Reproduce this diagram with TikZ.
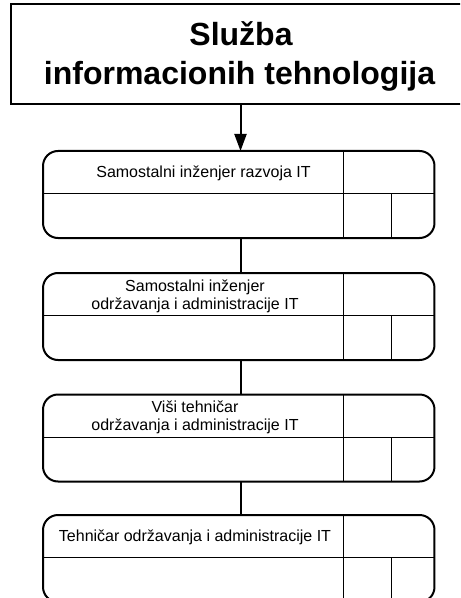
\documentclass[tikz,border=0pt]{standalone}
\usepackage{fontspec}
\setmainfont{Liberation Sans}
\usetikzlibrary{arrows.meta,calc}
\begin{document}
\begin{tikzpicture}[x=0.75pt,y=-0.75pt,
  titlebox/.style={draw, line width=0.8pt, minimum width=344.25pt, minimum height=75pt, inner sep=0pt, outer sep=0pt},
  titletext/.style={font=\fontsize{24pt}{29pt}\selectfont\bfseries, anchor=base, inner sep=0pt},
  role/.style={draw, line width=1.5pt, rounded corners=11.25pt, minimum width=293.6pt, minimum height=65.25pt, inner sep=0pt, outer sep=0pt},
  roletext/.style={font=\fontsize{12pt}{14pt}\selectfont, anchor=base, inner sep=0pt},
  conn/.style={line width=1.5pt},
  div/.style={line width=0.75pt}]
\useasboundingbox (0,0) rectangle (460,598);
\clip (0,0) rectangle (460,598);
\fill[white] (0,0) rectangle (460,598);
% title
\node[titlebox] (title) at (240.5,54) {};
\node[titletext] (t1) at (241,46) {Služba};
\node[titletext] (t2) at (239.5,85) {informacionih tehnologija};
% role boxes
\node[role] (b1) at (238.75,194.5) {};
\node[role] (b2) at (238.75,316.5) {};
\node[role] (b3) at (238.75,438) {};
\node[role] (b4) at (238.75,558.5) {};
\coordinate (v1) at (343,0);
\coordinate (v2) at (391,0);
\foreach \b in {b1,b2,b3,b4}{
  \coordinate (\b-l) at ($(\b.north west)+(0,42.5)$);
  \coordinate (\b-r) at ($(\b.north east)+(0,42.5)$);
  \draw[div] (\b-l) -- (\b-r);
  \draw[div] (\b.north -| v1) -- (\b.south -| v1);
  \draw[div] (\b-l -| v2) -- (\b.south -| v2);
}
% texts
\node[roletext] (r1) at (203.5,178) {Samostalni inženjer razvoja IT};
\node[roletext] (r2a) at (195,291) {Samostalni inženjer};
\node[roletext] (r2b) at (195,309.5) {održavanja i administracije IT};
\node[roletext] (r3a) at (195,412) {Viši tehničar};
\node[roletext] (r3b) at (195,430.5) {održavanja i administracije IT};
\node[roletext] (r4) at (195,541) {Tehničar održavanja i administracije IT};
% connectors
\draw[conn, -{Triangle[length=12.75pt,width=9pt]}] (title.south) -- (title.south |- b1.north);
\draw[conn] (b1.south -| title) -- (b2.north -| title);
\draw[conn] (b2.south -| title) -- (b3.north -| title);
\draw[conn] (b3.south -| title) -- (b4.north -| title);
\end{tikzpicture}
\end{document}
